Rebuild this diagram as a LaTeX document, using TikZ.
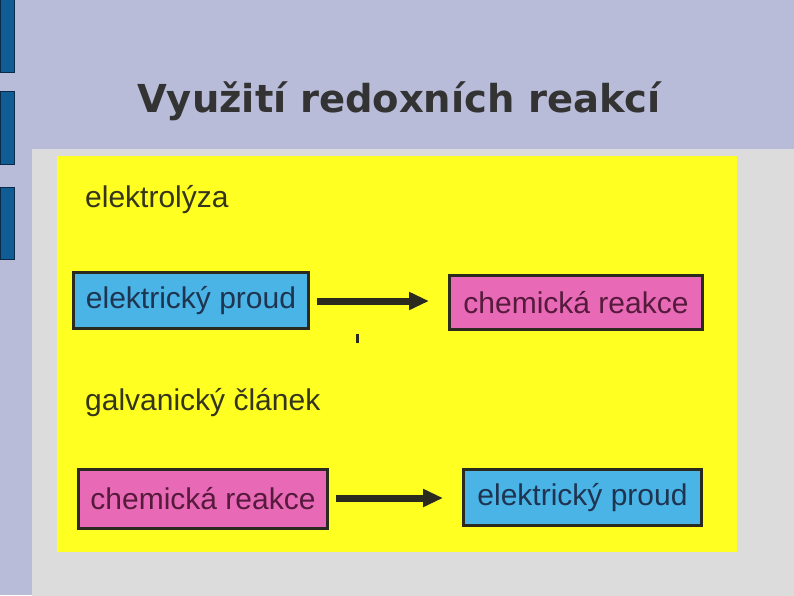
\documentclass[tikz,border=0pt]{standalone}
\usepackage{fontspec}
\setmainfont{Liberation Sans}
\newfontfamily\titlefont{DejaVu Sans}
\usetikzlibrary{arrows.meta}
\definecolor{bgl}{HTML}{B8BCD8}
\definecolor{panel}{HTML}{DCDCDC}
\definecolor{yel}{HTML}{FFFF22}
\definecolor{barb}{HTML}{105C94}
\definecolor{barbd}{HTML}{0A2A48}
\definecolor{boxb}{HTML}{4AB4E6}
\definecolor{boxp}{HTML}{E86AB6}
\definecolor{edge}{HTML}{2A2A1E}
\definecolor{txtb}{HTML}{1E3450}
\definecolor{txtp}{HTML}{561A3C}
\definecolor{txtl}{HTML}{35351E}
\definecolor{ttl}{HTML}{333333}
\tikzset{
  bar/.style={fill=barb, draw=barbd, line width=1pt},
  bluebox/.style={draw=edge, line width=3pt, fill=boxb, text=txtb, inner sep=0pt, font=\fontsize{30}{33}\selectfont},
  pinkbox/.style={draw=edge, line width=3pt, fill=boxp, text=txtp, inner sep=0pt, font=\fontsize{30}{33}\selectfont},
  lbl/.style={anchor=base west, inner sep=0pt, text=txtl, font=\fontsize{30}{33}\selectfont},
  flow/.style={draw=edge, line width=7pt, -{Triangle[length=20pt,width=17pt]}, shorten <=7pt, shorten >=19pt}
}
\begin{document}
\begin{tikzpicture}[x=1pt,y=-1pt]
\useasboundingbox (0,0) rectangle (794,595);
\fill[bgl] (0,0) rectangle (794,595);
\draw[bar] (0.5,-1) rectangle (14,72);
\draw[bar] (0.5,91) rectangle (14,164);
\draw[bar] (0.5,187) rectangle (14,259);
\fill[panel] (32,149) rectangle (795,596);
\fill[yel] (57,156) rectangle (737,552);
\node[anchor=base, inner sep=0pt, text=ttl, font=\titlefont\bfseries\fontsize{38.5}{42}\selectfont] (title) at (399,112) {Využití redoxních reakcí};
\node[lbl] (l1) at (85,207) {elektrolýza};
\node[lbl] (l2) at (85,410) {galvanický článek};
\node[bluebox, minimum width=235pt, minimum height=56pt] (b1) at (191,300.5) {elektrický proud};
\node[pinkbox, minimum width=253pt, minimum height=54pt] (b2) at (576,302.5) {chemická reakce};
\node[pinkbox, minimum width=249pt, minimum height=59pt] (b3) at (203,499) {chemická reakce};
\node[bluebox, minimum width=238pt, minimum height=56pt] (b4) at (582.5,497.5) {elektrický proud};
\draw[flow] (b1.east |- 0,301) -- (b2.west |- 0,301);
\draw[flow] (b3.east |- 0,498) -- (b4.west |- 0,498);
\coordinate (t1) at (357,334);
\coordinate (t2) at (357,343);
\draw[edge, line width=3pt] (t1) -- (t2);
\end{tikzpicture}
\end{document}
